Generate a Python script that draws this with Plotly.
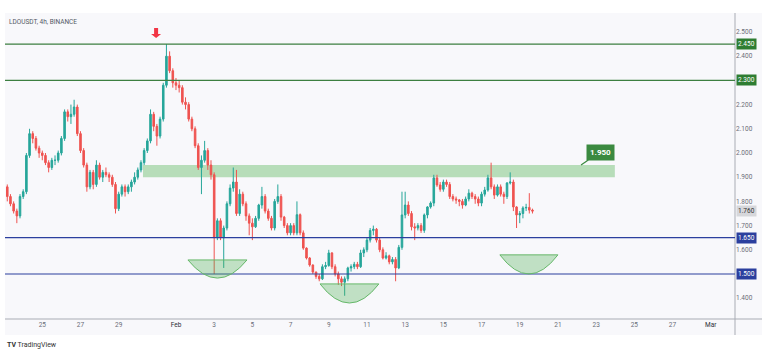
import pandas as pd
import plotly.graph_objects as go

# ---------------- data ----------------
start_time = "2025-01-23 04:00"
opens = [1.86,1.82,1.79,1.76,1.74,1.82,1.84,1.99,2.08,2.06,
         2.02,2.00,1.99,1.96,1.94,1.97,1.97,2.00,2.06,2.17,
         2.15,2.16,2.19,2.08,2.01,1.95,1.86,1.92,1.87,1.95,
         1.90,1.92,1.91,1.90,1.87,1.77,1.83,1.86,1.84,1.86,
         1.88,1.90,1.93,1.96,2.01,2.05,2.16,2.11,2.07,2.14,
         2.28,2.40,2.34,2.29,2.28,2.27,2.21,2.20,2.14,2.10,
         2.03,1.94,1.97,2.01,1.95,1.91,1.65,1.72,1.65,1.69,
         1.79,1.855,1.88,1.75,1.83,1.79,1.74,1.71,1.695,1.73,
         1.785,1.82,1.76,1.73,1.69,1.80,1.82,1.735,1.70,1.67,
         1.70,1.67,1.745,1.67,1.607,1.566,1.537,1.508,1.49,1.48,
         1.53,1.535,1.587,1.53,1.50,1.48,1.466,1.48,1.525,1.53,
         1.54,1.53,1.587,1.60,1.64,1.68,1.685,1.64,1.60,1.566,
         1.575,1.55,1.56,1.525,1.61,1.744,1.785,1.75,1.695,1.69,
         1.70,1.68,1.744,1.777,1.793,1.897,1.868,1.85,1.88,1.87,
         1.82,1.81,1.806,1.80,1.785,1.81,1.834,1.82,1.81,1.793,
         1.83,1.847,1.897,1.86,1.826,1.86,1.83,1.82,1.876,1.88,
         1.777,1.744,1.75,1.773,1.775,1.764]
highs = [1.87,1.83,1.80,1.77,1.83,1.85,2.00,2.10,2.09,2.07,
         2.03,2.01,2.00,1.97,1.98,1.99,2.01,2.07,2.18,2.18,
         2.20,2.22,2.20,2.09,2.02,1.96,1.93,1.93,1.97,1.96,
         1.93,1.94,1.92,1.91,1.88,1.84,1.87,1.87,1.87,1.89,
         1.92,1.94,1.97,2.02,2.06,2.18,2.17,2.12,2.15,2.29,
         2.45,2.42,2.35,2.31,2.30,2.28,2.23,2.21,2.15,2.11,
         2.04,1.99,2.05,2.02,1.97,1.92,1.73,1.73,1.70,1.80,
         1.87,1.94,1.93,1.85,1.84,1.80,1.75,1.73,1.74,1.79,
         1.86,1.83,1.77,1.74,1.81,1.87,1.83,1.74,1.71,1.71,
         1.71,1.80,1.75,1.68,1.61,1.57,1.54,1.51,1.50,1.54,
         1.55,1.60,1.59,1.54,1.51,1.49,1.49,1.53,1.54,1.55,
         1.55,1.60,1.61,1.65,1.69,1.70,1.69,1.65,1.61,1.59,
         1.58,1.57,1.57,1.62,1.84,1.84,1.80,1.76,1.71,1.71,
         1.71,1.75,1.78,1.80,1.91,1.91,1.88,1.89,1.89,1.88,
         1.83,1.82,1.81,1.81,1.82,1.85,1.84,1.83,1.82,1.84,
         1.86,1.91,1.96,1.87,1.87,1.87,1.84,1.88,1.92,1.89,
         1.78,1.76,1.78,1.79,1.834,1.77]
lows = [1.80,1.78,1.75,1.71,1.73,1.81,1.83,1.98,2.04,2.01,
        1.98,1.97,1.95,1.92,1.93,1.95,1.96,1.99,2.05,2.13,
        2.12,2.15,2.07,2.00,1.94,1.84,1.85,1.85,1.86,1.89,
        1.88,1.90,1.88,1.86,1.75,1.76,1.82,1.82,1.83,1.84,
        1.87,1.89,1.92,1.95,2.00,2.04,2.09,2.03,2.06,2.13,
        2.27,2.33,2.27,2.26,2.25,2.20,2.18,2.13,2.09,2.02,
        1.93,1.83,1.96,1.93,1.89,1.50,1.64,1.64,1.525,1.68,
        1.78,1.84,1.74,1.74,1.78,1.72,1.66,1.64,1.69,1.72,
        1.77,1.75,1.72,1.68,1.68,1.79,1.72,1.69,1.66,1.66,
        1.66,1.66,1.66,1.60,1.56,1.53,1.50,1.48,1.47,1.475,
        1.52,1.53,1.52,1.49,1.455,1.45,1.41,1.47,1.51,1.52,
        1.52,1.525,1.57,1.59,1.63,1.66,1.63,1.59,1.56,1.56,
        1.54,1.54,1.47,1.52,1.60,1.73,1.74,1.68,1.64,1.68,
        1.67,1.67,1.73,1.77,1.78,1.86,1.84,1.84,1.86,1.81,
        1.80,1.79,1.78,1.77,1.78,1.80,1.81,1.79,1.78,1.78,
        1.82,1.84,1.85,1.81,1.82,1.82,1.79,1.81,1.87,1.76,
        1.69,1.71,1.73,1.76,1.75,1.75]
closes = [1.82,1.79,1.76,1.74,1.82,1.84,1.99,2.08,2.06,2.02,
          2.00,1.99,1.96,1.94,1.97,1.97,2.00,2.06,2.17,2.15,
          2.16,2.19,2.08,2.01,1.95,1.86,1.92,1.87,1.95,1.90,
          1.92,1.91,1.90,1.87,1.77,1.83,1.86,1.84,1.86,1.88,
          1.90,1.93,1.96,2.01,2.05,2.16,2.11,2.07,2.14,2.28,
          2.40,2.34,2.29,2.28,2.27,2.21,2.20,2.14,2.10,2.03,
          1.94,1.97,2.01,1.95,1.91,1.65,1.72,1.65,1.69,1.79,
          1.855,1.88,1.75,1.83,1.79,1.74,1.71,1.695,1.73,1.785,
          1.82,1.76,1.73,1.69,1.80,1.82,1.735,1.70,1.67,1.70,
          1.67,1.745,1.67,1.607,1.566,1.537,1.508,1.49,1.48,1.53,
          1.535,1.587,1.53,1.50,1.48,1.466,1.48,1.525,1.53,1.54,
          1.53,1.587,1.60,1.64,1.68,1.685,1.64,1.60,1.566,1.575,
          1.55,1.56,1.525,1.61,1.744,1.785,1.75,1.695,1.69,1.70,
          1.68,1.744,1.777,1.793,1.897,1.868,1.85,1.88,1.87,1.82,
          1.81,1.806,1.80,1.785,1.81,1.834,1.82,1.81,1.793,1.83,
          1.847,1.897,1.86,1.826,1.86,1.83,1.82,1.876,1.88,1.777,
          1.744,1.75,1.773,1.775,1.764,1.76]

green_levels = [2.450, 2.300]
blue_levels = [1.650, 1.500]
last_price = 1.760
zone_low, zone_high = 1.90, 1.95
zone_start, zone_end = "2025-01-30 06:30", "2025-02-23 23:30"
callout_text = "1.950"

x_tick_dates = ["2025-01-25", "2025-01-27", "2025-01-29", "2025-02-01", "2025-02-03",
                "2025-02-05", "2025-02-07", "2025-02-09", "2025-02-11", "2025-02-13",
                "2025-02-15", "2025-02-17", "2025-02-19", "2025-02-21", "2025-02-23",
                "2025-02-25", "2025-02-27", "2025-03-01"]
x_tick_text = ["25", "27", "29", "<span style='color:#2a2e39'>Feb</span>", "3", "5", "7",
               "9", "11", "13", "15", "17", "19", "21", "23", "25", "27",
               "<span style='color:#2a2e39'>Mar</span>"]
y_tick_vals = [1.4, 1.6, 1.7, 1.8, 1.9, 2.0, 2.1, 2.2, 2.4, 2.5]
y_tick_text = ["1.400", "1.600", "1.700", "1.800", "1.900", "2.000", "2.100", "2.200",
               "2.400", "2.500"]

# bowls: (left date, right date, rim price, bottom price)
bowls = [("2025-02-01_15:00", "2025-02-04_17:15", 1.558, 1.483),
         ("2025-02-08_13:00", "2025-02-11_15:00", 1.459, 1.380),
         ("2025-02-17_23:00", "2025-02-21_00:00", 1.579, 1.500)]

times = pd.date_range(start_time, periods=len(closes), freq="4h")

UP = "#26a69a"
DOWN = "#ef5350"
PANEL = "#f8f8fb"
GREEN = "#2e7d32"
BLUE = "#2b3f9e"
FONT = "Roboto"

fig = go.Figure(go.Candlestick(
    x=times, open=opens, high=highs, low=lows, close=closes,
    increasing=dict(line=dict(color=UP, width=1), fillcolor=UP),
    decreasing=dict(line=dict(color=DOWN, width=1), fillcolor=DOWN),
    showlegend=False, hoverinfo="skip",
))

shapes = []
shapes.append(dict(type="rect", xref="paper", yref="paper", x0=0, x1=1.037, y0=-0.0523, y1=1,
                   fillcolor=PANEL, line=dict(width=0), layer="below"))
shapes.append(dict(type="line", xref="paper", yref="paper", x0=1, x1=1, y0=-0.0523, y1=1,
                   line=dict(color="#a9acb4", width=1)))
shapes.append(dict(type="line", xref="paper", yref="paper", x0=0, x1=1.037, y0=0, y1=0,
                   line=dict(color="#a9acb4", width=1)))
shapes.append(dict(type="rect", xref="x", yref="y", x0=zone_start, x1=zone_end,
                   y0=zone_low, y1=zone_high, fillcolor="rgba(76,175,80,0.38)",
                   line=dict(width=0), layer="below"))
for lv in green_levels:
    shapes.append(dict(type="line", xref="paper", yref="y", x0=0, x1=1, y0=lv, y1=lv,
                       line=dict(color="#3d7f41", width=1.2)))
for lv in blue_levels:
    shapes.append(dict(type="line", xref="paper", yref="y", x0=0, x1=1, y0=lv, y1=lv,
                       line=dict(color=BLUE, width=1.2)))
for x0, x1, rim, bottom in bowls:
    ctrl = rim - 2 * (rim - bottom)
    t0 = pd.Timestamp(x0.replace("_", " "))
    t1 = pd.Timestamp(x1.replace("_", " "))
    mid = (t0 + (t1 - t0) / 2).strftime("%Y-%m-%d_%H:%M")
    path = f"M {x0},{rim} Q {mid},{ctrl} {x1},{rim} Z"
    shapes.append(dict(type="path", xref="x", yref="y", path=path,
                       fillcolor="rgba(76,175,80,0.32)", line=dict(color="#66b86a", width=1)))
shapes.append(dict(type="path", xref="x", yref="y", xsizemode="pixel", ysizemode="pixel",
                   xanchor="2025-01-30 23:00", yanchor=2.475,
                   path="M -2,10 L 2,10 L 2,4 L 5,4 L 0,0 L -5,4 L -2,4 Z",
                   fillcolor="#f23645", line=dict(width=0)))

annotations = []
annotations.append(dict(xref="paper", yref="paper", x=0, y=1, xanchor="left", yanchor="top",
                        xshift=2, yshift=-3, text="LDOUSDT, 4h, BINANCE", showarrow=False,
                        font=dict(family=FONT, size=6.5, color="#555a66")))
for lv in green_levels:
    annotations.append(dict(xref="paper", yref="y", x=1, y=lv, xanchor="left", yanchor="middle",
                            xshift=1, text=f"{lv:.3f}", showarrow=False, bgcolor=GREEN,
                            borderpad=1, font=dict(family=FONT, size=6.5, color="white")))
for lv in blue_levels:
    annotations.append(dict(xref="paper", yref="y", x=1, y=lv, xanchor="left", yanchor="middle",
                            xshift=1, text=f"{lv:.3f}", showarrow=False, bgcolor=BLUE,
                            borderpad=1, font=dict(family=FONT, size=6.5, color="white")))
annotations.append(dict(xref="paper", yref="y", x=1, y=last_price, xanchor="left",
                        yanchor="middle", xshift=1, text=f"{last_price:.3f}", showarrow=False,
                        bgcolor="#d6d7db", borderpad=1,
                        font=dict(family=FONT, size=6.5, color="#333")))
annotations.append(dict(xref="x", yref="y", x="2025-02-22 05:00", y=zone_high,
                        text=f"<b>{callout_text}</b>", showarrow=True, arrowhead=0,
                        arrowcolor="#3b8a40", arrowwidth=1.2, ax=19, ay=-13,
                        xanchor="center", yanchor="middle", bgcolor="#3b8a40",
                        borderpad=3, font=dict(family=FONT, size=8, color="white")))
annotations.append(dict(xref="paper", yref="paper", x=0, y=-0.085, xanchor="left",
                        yanchor="middle", xshift=0, text="<b>TV</b> TradingView",
                        showarrow=False, font=dict(family=FONT, size=7, color="#333")))

fig.update_layout(
    width=768, height=354,
    margin=dict(l=5, r=33, t=13, b=35),
    paper_bgcolor="white", plot_bgcolor=PANEL,
    shapes=shapes, annotations=annotations,
    font=dict(family=FONT),
    xaxis=dict(type="date", range=["2025-01-23 01:08", "2025-03-02 06:30"],
               rangeslider=dict(visible=False), showgrid=False, zeroline=False,
               showline=False, ticks="", tickvals=x_tick_dates, ticktext=x_tick_text,
               tickfont=dict(family=FONT, size=6.5, color="#6a6d78")),
    yaxis=dict(side="right", range=[1.314, 2.5785], showgrid=False, zeroline=False,
               showline=False, ticks="", tickvals=y_tick_vals, ticktext=y_tick_text,
               tickfont=dict(family=FONT, size=6.5, color="#6a6d78")),
)

fig.write_html("out.html")
